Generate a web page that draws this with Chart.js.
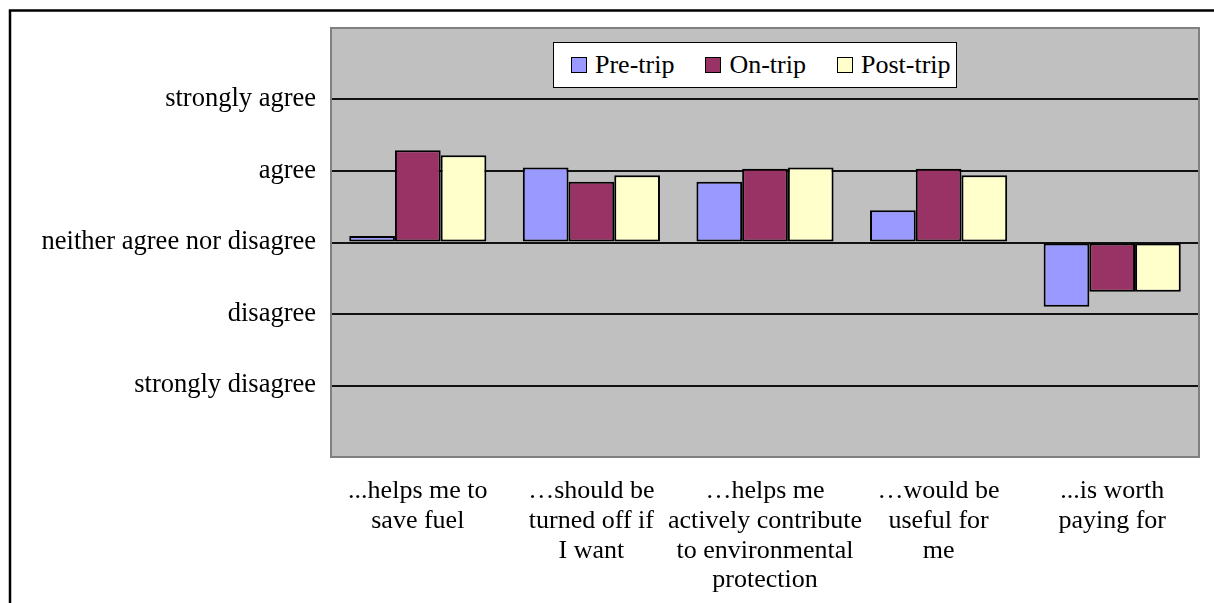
<!DOCTYPE html>
<html>
<head>
<meta charset="utf-8">
<script src="https://cdn.jsdelivr.net/npm/chart.js@4.4.0/dist/chart.umd.min.js"></script>
<style>
    html, body { margin: 0; padding: 0; background: #fff; }
    #wrap { position: relative; width: 1214px; height: 603px; }
    #legend {
        position: absolute; left: 553px; top: 42px; width: 404px; height: 46px;
        box-sizing: border-box; border: 1.5px solid #000; background: #fff;
        display: flex; align-items: center; padding-left: 17px; white-space: nowrap;
        font-family: "Liberation Serif", "Times New Roman", serif; font-size: 26px; color: #000;
    }
    .item { display: flex; align-items: center; margin-right: 31px; flex: none; }
    .swatch { width: 16px; height: 16px; box-sizing: border-box; border: 1.5px solid #000; margin-right: 8px; flex: none; }
</style>
</head>
<body>
<div id="wrap">
    <canvas id="surveyChart" width="1214" height="603"></canvas>
    <div id="legend"></div>
</div>
<script>
// === DATA ===
const categories = [
    ['...helps me to', 'save fuel'],
    ['…should be', 'turned off if', 'I want'],
    ['…helps me', 'actively contribute', 'to environmental', 'protection'],
    ['…would be', 'useful for', 'me'],
    ['...is worth', 'paying for']
];
const levelLabels = ['strongly disagree', 'disagree', 'neither agree nor disagree', 'agree', 'strongly agree'];
const seriesNames = ['Pre-trip', 'On-trip', 'Post-trip'];
const seriesColors = ['#9999ff', '#993366', '#ffffcc'];
const preTrip = [3.09, 4.05, 3.85, 3.45, 2.10];
const onTrip = [4.29, 3.85, 4.03, 4.03, 2.31];
const postTrip = [4.22, 3.94, 4.05, 3.94, 2.31];
const neutral = 3;

const serifFont = '"Liberation Serif", "Times New Roman", serif';

// === LEGEND (HTML) ===
const legendEl = document.getElementById('legend');
seriesNames.forEach((name, i) => {
    const item = document.createElement('div');
    item.className = 'item';
    const sw = document.createElement('span');
    sw.className = 'swatch';
    sw.style.background = seriesColors[i];
    const txt = document.createElement('span');
    txt.textContent = name;
    item.appendChild(sw);
    item.appendChild(txt);
    legendEl.appendChild(item);
});

// === PLOT BACKGROUND + FRAME ===
const framePlugin = {
    id: 'frame',
    beforeDraw(chart) {
        const { ctx, chartArea: a } = chart;
        ctx.save();
        ctx.fillStyle = '#c0c0c0';
        ctx.fillRect(a.left, a.top, a.right - a.left, a.bottom - a.top);
        ctx.strokeStyle = '#000';
        ctx.lineWidth = 2.5;
        ctx.beginPath();
        ctx.moveTo(10, 603);
        ctx.lineTo(10, 10.5);
        ctx.lineTo(1214, 10.5);
        ctx.stroke();
        ctx.restore();
    },
    afterDraw(chart) {
        const { ctx, chartArea: a } = chart;
        ctx.save();
        ctx.strokeStyle = '#808080';
        ctx.lineWidth = 2;
        ctx.strokeRect(a.left, a.top, a.right - a.left, a.bottom - a.top);
        ctx.restore();
    }
};

const makeSet = (label, data, i) => ({
    label: label,
    data: data,
    base: neutral,
    backgroundColor: seriesColors[i],
    borderColor: '#000',
    borderWidth: 2,
    borderSkipped: false
});

new Chart(document.getElementById('surveyChart').getContext('2d'), {
    type: 'bar',
    data: {
        labels: categories,
        datasets: [
            makeSet(seriesNames[0], preTrip, 0),
            makeSet(seriesNames[1], onTrip, 1),
            makeSet(seriesNames[2], postTrip, 2)
        ]
    },
    options: {
        responsive: false,
        animation: false,
        layout: { padding: { left: 0, right: 15, top: 28, bottom: 0 } },
        categoryPercentage: 0.79,
        barPercentage: 1,
        plugins: {
            legend: { display: false },
            tooltip: { enabled: false }
        },
        scales: {
            x: {
                grid: { display: false, drawTicks: false },
                border: { display: false },
                ticks: {
                    color: '#000',
                    padding: 19,
                    maxRotation: 0,
                    autoSkip: false,
                    font: { family: serifFont, size: 26, lineHeight: 1.15 }
                },
                afterFit: scale => { scale.height = 146; }
            },
            y: {
                min: 0,
                max: 6,
                grid: {
                    drawTicks: false,
                    lineWidth: 2,
                    color: c => (c.tick && c.tick.value >= 1 && c.tick.value <= 5) ? '#111' : 'transparent'
                },
                border: { display: false },
                ticks: {
                    stepSize: 1,
                    autoSkip: false,
                    color: '#000',
                    padding: 15,
                    font: { family: serifFont, size: 26.5 },
                    callback: value => (value >= 1 && value <= 5) ? levelLabels[value - 1] : ''
                },
                afterFit: scale => {
                    scale.width = 331;
                    scale.paddingTop = 0;
                    scale.paddingBottom = 0;
                }
            }
        }
    },
    plugins: [framePlugin]
});
</script>
</body>
</html>
